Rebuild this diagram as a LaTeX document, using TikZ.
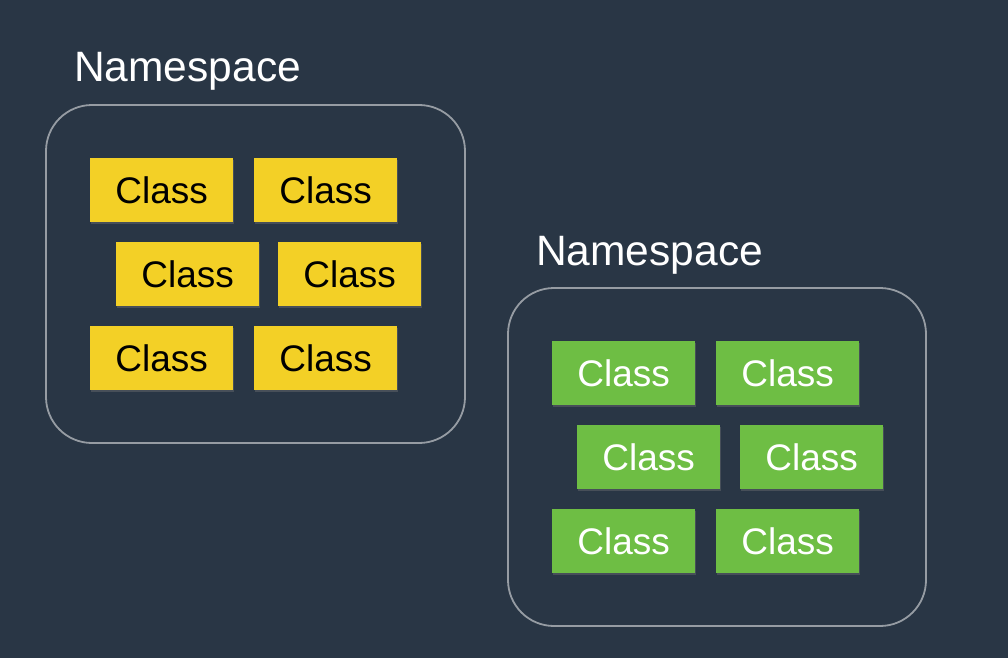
\documentclass[tikz,border=0pt]{standalone}
\usepackage{fontspec}
\setmainfont{Liberation Sans}
\usetikzlibrary{shadows}

\definecolor{slatebg}{RGB}{41,54,69}
\definecolor{nsgray}{RGB}{150,156,163}
\definecolor{classyellow}{RGB}{243,208,38}
\definecolor{classgreen}{RGB}{110,190,68}

\tikzset{
  nsbox/.style={draw=nsgray, line width=1.8pt, rounded corners=46pt},
  nstitle/.style={anchor=base west, inner sep=0pt, text=white,
    font=\fontsize{42.5}{42.5}\selectfont},
  classbox/.style={anchor=north west, minimum width=143pt, minimum height=64pt,
    inner sep=0pt, font=\fontsize{37}{37}\selectfont,
    drop shadow={shadow xshift=1pt, shadow yshift=-2pt, opacity=0.35}},
  yclass/.style={classbox, fill=classyellow, text=black},
  gclass/.style={classbox, fill=classgreen, text=white}
}

\begin{document}
\begin{tikzpicture}[x=1pt,y=-1pt]
\fill[slatebg] (0,0) rectangle (1008,658);
\useasboundingbox (0,0) rectangle (1008,658);

% left namespace
\node[nstitle] (titleA) at (74,82) {Namespace};
\draw[nsbox] (46,105) rectangle (465,443);
\node[yclass] (a1) at (90,158) {Class};
\node[yclass] (a2) at (254,158) {Class};
\node[yclass] (a3) at (116,242) {Class};
\node[yclass] (a4) at (278,242) {Class};
\node[yclass] (a5) at (90,326) {Class};
\node[yclass] (a6) at (254,326) {Class};

% right namespace
\node[nstitle] (titleB) at (536,265) {Namespace};
\draw[nsbox] (508,288) rectangle (926,626);
\node[gclass] (b1) at (552,341) {Class};
\node[gclass] (b2) at (716,341) {Class};
\node[gclass] (b3) at (577,425) {Class};
\node[gclass] (b4) at (740,425) {Class};
\node[gclass] (b5) at (552,509) {Class};
\node[gclass] (b6) at (716,509) {Class};
\end{tikzpicture}
\end{document}
